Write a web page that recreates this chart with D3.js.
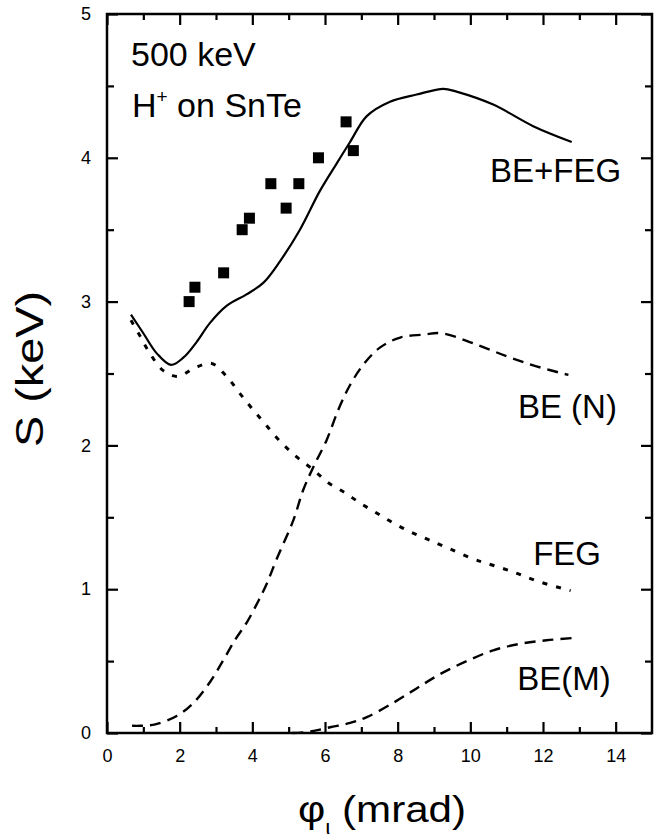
<!DOCTYPE html>
<html>
<head>
<meta charset="utf-8">
<script src="https://cdn.jsdelivr.net/npm/d3@7"></script>
<style>
  html, body { margin: 0; padding: 0; background: #fff; }
  svg { display: block; }
  text { font-family: "Liberation Sans", Arial, Helvetica, sans-serif; fill: #000; }
</style>
</head>
<body>
<svg id="chart" width="661" height="839"></svg>
<script>
// ---- data ----
const befegX = [0.66, 1.0, 1.37, 1.76, 2.10, 2.47, 2.83, 3.29, 3.84, 4.30, 4.76, 5.31, 5.86, 6.32, 6.69, 7.15, 7.79, 8.52, 9.26, 9.62, 10.63, 11.73, 12.79];
const befegY = [2.91, 2.78, 2.64, 2.56, 2.61, 2.72, 2.85, 2.97, 3.05, 3.13, 3.28, 3.50, 3.77, 3.96, 4.11, 4.29, 4.39, 4.44, 4.48, 4.46, 4.37, 4.22, 4.11];

const fegX = [0.66, 0.91, 1.18, 1.55, 1.96, 2.42, 2.88, 3.29, 3.66, 3.98, 4.35, 4.76, 5.22, 5.68, 6.09, 6.55, 6.96, 7.42, 7.88, 8.34, 8.80, 9.26, 10.08, 10.45, 11.18, 11.92, 12.76];
const fegY = [2.87, 2.76, 2.64, 2.52, 2.48, 2.54, 2.57, 2.48, 2.36, 2.26, 2.15, 2.03, 1.92, 1.83, 1.74, 1.67, 1.60, 1.53, 1.46, 1.40, 1.35, 1.30, 1.21, 1.18, 1.12, 1.05, 0.99];

const benX = [0.69, 0.92, 1.33, 1.93, 2.38, 2.85, 3.21, 3.53, 3.85, 4.17, 4.40, 4.67, 5.13, 5.40, 5.68, 6.05, 6.37, 6.69, 7.05, 7.51, 8.07, 8.71, 9.2, 10.08, 11.0, 11.82, 12.7];
const benY = [0.05, 0.05, 0.06, 0.12, 0.21, 0.36, 0.51, 0.65, 0.77, 0.92, 1.04, 1.21, 1.48, 1.69, 1.85, 2.04, 2.25, 2.42, 2.56, 2.68, 2.75, 2.77, 2.78, 2.71, 2.62, 2.55, 2.49];

const bemX = [5.1, 5.6, 6.14, 6.69, 7.15, 7.88, 8.52, 9.17, 9.9, 10.63, 11.37, 12.1, 12.79];
const bemY = [0.0, 0.01, 0.04, 0.07, 0.11, 0.21, 0.31, 0.41, 0.50, 0.575, 0.62, 0.645, 0.66];

const sqX = [2.26, 2.42, 3.21, 3.72, 3.92, 4.51, 4.93, 5.28, 5.82, 6.58, 6.78];
const sqY = [3.00, 3.10, 3.20, 3.50, 3.58, 3.82, 3.65, 3.82, 4.00, 4.25, 4.05];

const xTicks = [0, 2, 4, 6, 8, 10, 12, 14];
const yTicks = [0, 1, 2, 3, 4, 5];

const curveLabels = [
  {text: "BE+FEG", x: 10.54, y: 3.83},
  {text: "BE (N)", x: 11.31, y: 2.19},
  {text: "FEG",    x: 11.73, y: 1.17},
  {text: "BE(M)",  x: 11.29, y: 0.30}
];

// ---- layout ----
const svg = d3.select("#chart");
const L = 107, R = 652, T = 14, B = 733;
const x = d3.scaleLinear().domain([0, 15]).range([L, R]);
const y = d3.scaleLinear().domain([0, 5]).range([B, T]);

const zip = (xs, ys) => xs.map((v, i) => [v, ys[i]]);
const line = d3.line().x(d => x(d[0])).y(d => y(d[1])).curve(d3.curveCatmullRom.alpha(0.5));

// curves
svg.append("path").datum(zip(befegX, befegY)).attr("d", line)
  .attr("fill", "none").attr("stroke", "#000").attr("stroke-width", 2.2);
svg.append("path").datum(zip(fegX, fegY)).attr("d", line)
  .attr("fill", "none").attr("stroke", "#000").attr("stroke-width", 3)
  .attr("stroke-dasharray", "5,9");
svg.append("path").datum(zip(benX, benY)).attr("d", line)
  .attr("fill", "none").attr("stroke", "#000").attr("stroke-width", 2.4)
  .attr("stroke-dasharray", "11,7");
svg.append("path").datum(zip(bemX, bemY)).attr("d", line)
  .attr("fill", "none").attr("stroke", "#000").attr("stroke-width", 2.4)
  .attr("stroke-dasharray", "11,7");

// squares
const S = 11;
svg.selectAll("rect.sq").data(zip(sqX, sqY)).enter().append("rect")
  .attr("class", "sq")
  .attr("x", d => x(d[0]) - S / 2).attr("y", d => y(d[1]) - S / 2)
  .attr("width", S).attr("height", S).attr("fill", "#000");

// axes (ticks inward on all sides)
function ax(gen, tx, ty) {
  const g = svg.append("g").attr("transform", `translate(${tx},${ty})`).call(gen);
  g.select(".domain").remove();
  g.selectAll(".tick line").attr("stroke", "#000").attr("stroke-width", 2.2);
  return g;
}
const xMajor = d3.range(0, 15, 2), xMinor = d3.range(1, 15, 2);
const yMajor = d3.range(0, 6, 1), yMinor = d3.range(0.5, 5, 1);

const gxb = ax(d3.axisBottom(x).tickValues(xTicks).tickSizeInner(-11).tickPadding(16).tickFormat(d3.format("d")), 0, B);
gxb.selectAll("text").attr("font-size", 18).attr("font-family", "Liberation Sans, Arial, sans-serif");
ax(d3.axisBottom(x).tickValues(xMinor).tickSizeInner(-6).tickFormat(""), 0, B);
ax(d3.axisTop(x).tickValues(xMajor).tickSizeInner(-11).tickFormat(""), 0, T);
ax(d3.axisTop(x).tickValues(xMinor).tickSizeInner(-6).tickFormat(""), 0, T);

const gyl = ax(d3.axisLeft(y).tickValues(yTicks).tickSizeInner(-11).tickPadding(16).tickFormat(d3.format("d")), L, 0);
gyl.selectAll("text").attr("font-size", 18).attr("font-family", "Liberation Sans, Arial, sans-serif");
ax(d3.axisLeft(y).tickValues(yMinor).tickSizeInner(-7).tickFormat(""), L, 0);
ax(d3.axisRight(y).tickValues(yMajor).tickSizeInner(-11).tickFormat(""), R, 0);
ax(d3.axisRight(y).tickValues(yMinor).tickSizeInner(-7).tickFormat(""), R, 0);

// frame
svg.append("rect").attr("x", L).attr("y", T).attr("width", R - L).attr("height", B - T)
  .attr("fill", "none").attr("stroke", "#000").attr("stroke-width", 2.5);

// annotations
const ann = svg.append("g").attr("font-size", 34);
ann.append("text").attr("x", 131).attr("y", 66).text("500 keV");
const t2 = ann.append("text").attr("x", 132).attr("y", 117);
t2.append("tspan").text("H");
t2.append("tspan").attr("font-size", 19).attr("dy", -14).text("+");
t2.append("tspan").attr("dy", 14).text(" on SnTe");

svg.selectAll("text.cl").data(curveLabels).enter().append("text")
  .attr("class", "cl").attr("font-size", 33)
  .attr("x", d => x(d.x)).attr("y", d => y(d.y)).text(d => d.text);

// axis titles
svg.append("text").attr("font-size", 38)
  .attr("textLength", 156).attr("lengthAdjust", "spacingAndGlyphs")
  .attr("transform", "translate(43,447) rotate(-90)").text("S (keV)");
const xt = svg.append("text").attr("font-size", 37).attr("x", 298).attr("y", 822)
  .attr("textLength", 168).attr("lengthAdjust", "spacingAndGlyphs");
xt.append("tspan").text("φ");
xt.append("tspan").attr("font-size", 20).attr("dy", 12).text("ι");
xt.append("tspan").attr("dy", -12).text(" (mrad)");
</script>
</body>
</html>
